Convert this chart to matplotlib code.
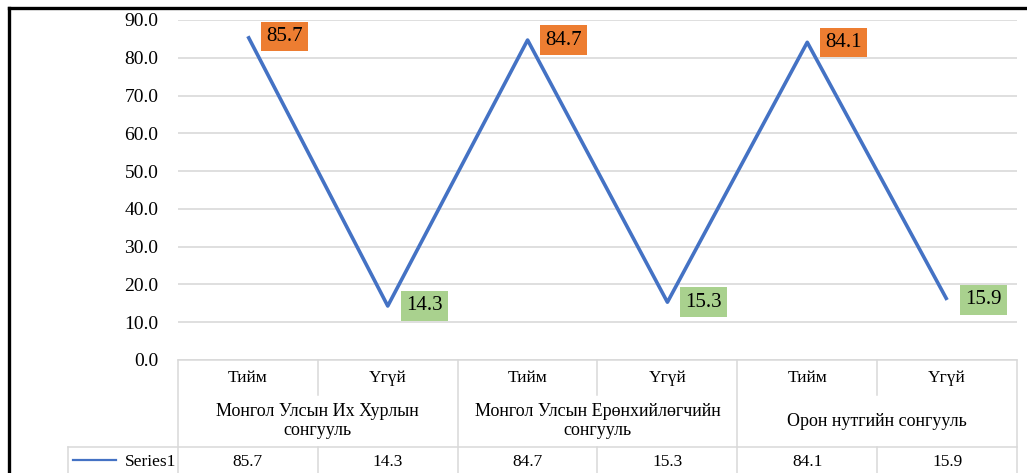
import matplotlib

matplotlib.use("Agg")
import matplotlib.pyplot as plt
from matplotlib import font_manager as fm
from matplotlib.transforms import blended_transform_factory

categories = ["Тийм", "Үгүй", "Тийм", "Үгүй", "Тийм", "Үгүй"]
groups = [
    "Монгол Улсын Их Хурлын\nсонгууль",
    "Монгол Улсын Ерөнхийлөгчийн\nсонгууль",
    "Орон нутгийн сонгууль",
]
series_name = "Series1"
values = [85.7, 14.3, 84.7, 15.3, 84.1, 15.9]
yticks = [0, 10, 20, 30, 40, 50, 60, 70, 80, 90]

W, H = 1027, 473
BLUE = "#4472C4"
ORANGE = "#ED7D31"
GREEN = "#A9D18E"
GRID = "#d9d9d9"

serif_path = fm.findfont(fm.FontProperties(family="Liberation Serif"))


def fp(size):
    return fm.FontProperties(fname=serif_path, size=size)


fig = plt.figure(figsize=(W / 100, H / 100), dpi=100)


def fy(py):
    # pixel row (from top) -> figure fraction
    return 1 - py / H


ax = fig.add_axes([178 / W, fy(360), (1017 - 178) / W, (360 - 20) / H])
x = list(range(len(values)))
ax.plot(x, values, color=BLUE, lw=2.6, solid_capstyle="butt", zorder=3)
ax.set_xlim(-0.5, len(values) - 0.5)
ax.set_ylim(0, 90)
ax.set_yticks(yticks)
ax.set_yticklabels([f"{v:.1f}" for v in yticks], fontproperties=fp(14))
ax.tick_params(axis="y", length=0, pad=14)
ax.set_xticks([])
ax.grid(axis="y", color=GRID, lw=1.2)
ax.set_axisbelow(True)
for s in ax.spines.values():
    s.set_visible(False)

# data labels
for xi, v in zip(x, values):
    ax.annotate(
        f"{v:.1f}",
        (xi, v),
        xytext=(13, 0),
        textcoords="offset points",
        ha="left",
        va="center",
        fontproperties=fp(15),
        bbox=dict(boxstyle="square,pad=0.25", fc=ORANGE if v > 50 else GREEN, ec="none"),
        zorder=4,
    )

# data table below the plot
tr = blended_transform_factory(ax.transData, fig.transFigure)
lk = dict(color=GRID, lw=1.1, clip_on=False, transform=tr)
x0, x1 = -0.5, len(values) - 0.5
ax.plot([x0, x1], [fy(360), fy(360)], **lk)
ax.plot([-1.29, x1], [fy(447), fy(447)], **lk)
ax.plot([-1.29, -1.29], [fy(447), 0], **lk)
for b in range(0, len(values) + 1, 2):
    ax.plot([b - 0.5, b - 0.5], [fy(360), 0], **lk)
for b in range(1, len(values), 2):
    ax.plot([b - 0.5, b - 0.5], [fy(360), fy(395)], **lk)
    ax.plot([b - 0.5, b - 0.5], [fy(447), 0], **lk)

tk = dict(transform=tr, ha="center", va="center", clip_on=False)
for xi, c in zip(x, categories):
    ax.text(xi, fy(378), c, fontproperties=fp(12.5), **tk)
for gi, g in enumerate(groups):
    ax.text(2 * gi + 0.5, fy(421), g, linespacing=1.2, fontproperties=fp(13), **tk)
for xi, v in zip(x, values):
    ax.text(xi, fy(462), f"{v:.1f}", fontproperties=fp(12.5), **tk)

# legend key in table
ax.plot([-1.25, -0.94], [fy(460), fy(460)], color=BLUE, lw=1.6, clip_on=False, transform=tr)
ax.text(-0.51, fy(462), series_name, transform=tr, ha="right", va="center",
        fontproperties=fp(12.5), clip_on=False)

# outer frame (top and left edges visible)
fig.add_artist(plt.Line2D([9 / W, 9 / W], [0, fy(8)], color="black", lw=2.4))
fig.add_artist(plt.Line2D([9 / W, 1], [fy(8), fy(8)], color="black", lw=2.4))

fig.savefig("out.png", dpi=100)
